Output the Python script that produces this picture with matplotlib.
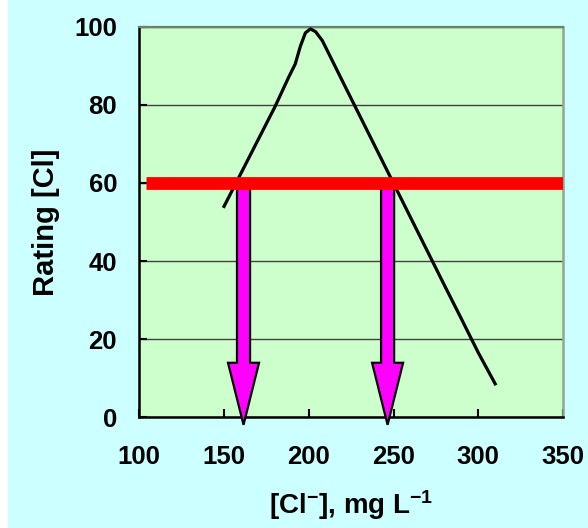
import numpy as np
import matplotlib
matplotlib.use("Agg")
import matplotlib.pyplot as plt
from matplotlib import patches

# Datos
cl = [150, 160, 170, 180, 188, 192, 195, 198, 201, 204, 208, 220, 230, 240,
      250, 260, 270, 280, 290, 300, 310]
rating = [54, 62.5, 71, 79.5, 87, 90.5, 95, 98.5, 99.5, 98.8, 96.5, 86, 77.3,
          68.6, 59.9, 51.2, 42.5, 33.8, 25.2, 16.5, 8.5]
umbral = 60
umbral_x = [104, 350]
flechas_x = [161.5, 246.5]
xticks = [100, 150, 200, 250, 300, 350]
yticks = [0, 20, 40, 60, 80, 100]

plt.rcParams['font.family'] = 'Liberation Sans'
plt.rcParams['font.weight'] = 'bold'
plt.rcParams['axes.labelweight'] = 'bold'
plt.rcParams['mathtext.fontset'] = 'custom'
plt.rcParams['mathtext.rm'] = 'Liberation Sans:bold'
plt.rcParams['mathtext.it'] = 'Liberation Sans:bold'
plt.rcParams['mathtext.bf'] = 'Liberation Sans:bold'
plt.rcParams['mathtext.default'] = 'bf'

fig = plt.figure(figsize=(5.88, 5.28), dpi=100, facecolor='#CCFFFF')
ax = fig.add_axes([0.2369, 0.2102, 0.7206, 0.7387])
ax.set_facecolor('#CCFFCC')

# franja blanca a la izquierda (resto de la diapositiva)
fig.patches.append(patches.Rectangle((0, 0), 8 / 588, 1, transform=fig.transFigure,
                                     facecolor='white', edgecolor='none', zorder=0))
grad = fig.add_axes([0, 1 - 96 / 528, 8 / 588, 14 / 528])
col = np.array([[[0.85, 0.95, 1.0]], [[0.45, 0.75, 0.9]], [[0.2, 0.6, 0.85]],
                [[0.25, 0.62, 0.85]], [[0.6, 0.75, 0.88]], [[0.92, 0.94, 0.97]]])
grad.imshow(col, aspect='auto', interpolation='bilinear')
grad.axis('off')

ax.plot(cl, rating, color='black', lw=2.3, zorder=3, solid_joinstyle='round')

for xf in flechas_x:
    arr = patches.FancyArrow(xf, umbral, 0, -62, width=7.7, head_width=18.3,
                             head_length=15.9, length_includes_head=True,
                             facecolor='#FF00FF', edgecolor='black', lw=1.6,
                             clip_on=False, zorder=4)
    ax.add_patch(arr)

ax.plot(umbral_x, [umbral, umbral], color='#FF0000', lw=9.2,
        solid_capstyle='butt', zorder=5)

ax.set_xlim(100, 350)
ax.set_ylim(0, 100)
ax.set_xticks(xticks)
ax.set_yticks(yticks)
ax.yaxis.grid(True, color='#404040', lw=1.0)
ax.set_axisbelow(True)
ax.tick_params(direction='in', length=6, width=1.5, labelsize=18.5)
ax.tick_params(axis='y', pad=16)
ax.tick_params(axis='x', pad=20)

for s in ['left', 'bottom']:
    ax.spines[s].set_linewidth(1.8)
    ax.spines[s].set_color('black')
ax.spines['top'].set_color('#708070')
ax.spines['top'].set_linewidth(1.6)
ax.spines['right'].set_color('#90A890')
ax.spines['right'].set_linewidth(1.8)

ax.set_xlabel('[Cl$^{-}$], mg L$^{-1}$', fontsize=20, fontweight='bold', labelpad=14)
ax.set_ylabel('Rating [Cl]', fontsize=21, fontweight='bold', labelpad=10)

fig.savefig('out.png', dpi=100, facecolor=fig.get_facecolor())
